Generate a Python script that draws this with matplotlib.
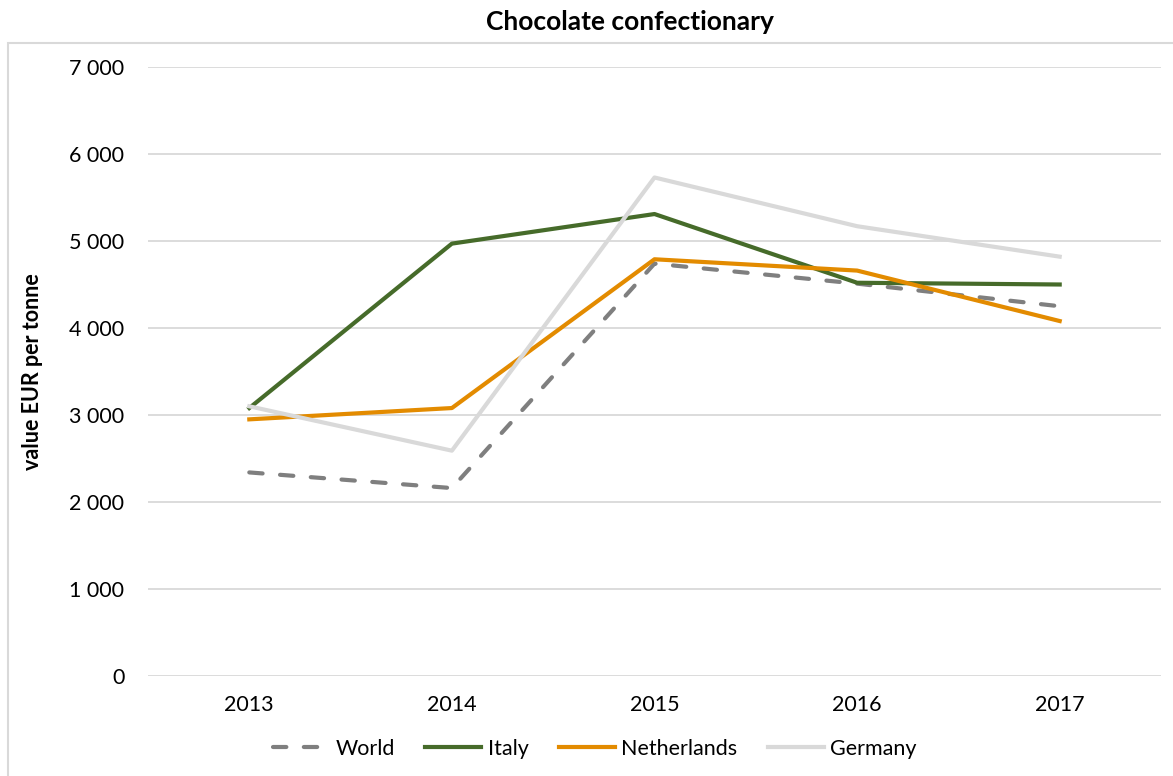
import matplotlib.pyplot as plt
from matplotlib.patches import Rectangle
from matplotlib.ticker import FuncFormatter

years = ['2013', '2014', '2015', '2016', '2017']
world = [2340, 2160, 4740, 4510, 4250]
italy = [3080, 4970, 5310, 4520, 4500]
netherlands = [2950, 3080, 4790, 4660, 4080]
germany = [3100, 2590, 5730, 5170, 4820]

plt.rcParams['font.family'] = ['Lato', 'DejaVu Sans']

fig = plt.figure(figsize=(11.73, 7.76), dpi=100)
W, H = 1173, 776
ax = fig.add_axes([148 / W, 1 - 676 / H, (1161 - 148) / W, (676 - 67) / H])

# chart area frame (only top/left visible in the reference)
fig.patches.append(Rectangle((8 / W, -0.1), 1.2, 1 - 43 / H + 0.1,
                             transform=fig.transFigure, fill=False,
                             edgecolor='#d9d9d9', lw=1.5))

x = range(len(years))
ax.plot(x, world, color='#7f7f7f', lw=3, linestyle=(0, (3.2, 4.2)),
        dash_capstyle='round', label='World')
ax.plot(x, italy, color='#466b2a', lw=3, label='Italy')
ax.plot(x, netherlands, color='#e38b00', lw=3, label='Netherlands')
ax.plot(x, germany, color='#d9d9d9', lw=3, label='Germany')

ax.set_xlim(-0.5, 4.5)
ax.set_ylim(0, 7000)
ax.set_xticks(list(x))
ax.set_xticklabels(years)
ax.set_yticks(range(0, 7001, 1000))
ax.yaxis.set_major_formatter(FuncFormatter(lambda v, p: f'{int(v):,}'.replace(',', ' ')))
ax.tick_params(length=0, labelsize=15.5, colors='#000000')
ax.tick_params(axis='y', pad=17)
ax.tick_params(axis='x', pad=14)
ax.grid(axis='y', color='#d9d9d9', lw=1.3)
ax.set_axisbelow(True)
for s in ax.spines.values():
    s.set_visible(False)

ax.set_ylabel('value EUR per tonne', fontsize=15.5, fontweight='bold')
ax.yaxis.set_label_coords(-(148 - 43) / (1161 - 148), 0.5)
fig.text(630 / W, 1 - 22 / H, 'Chocolate confectionary', ha='center', va='center',
         fontsize=19, fontweight='bold')

fig.legend(loc='center', bbox_to_anchor=(595 / W, 1 - 749 / H), ncol=4, frameon=False,
           fontsize=15.5, handlelength=2.6, columnspacing=1.4, handletextpad=0.3)

fig.savefig('out.png', dpi=100)
